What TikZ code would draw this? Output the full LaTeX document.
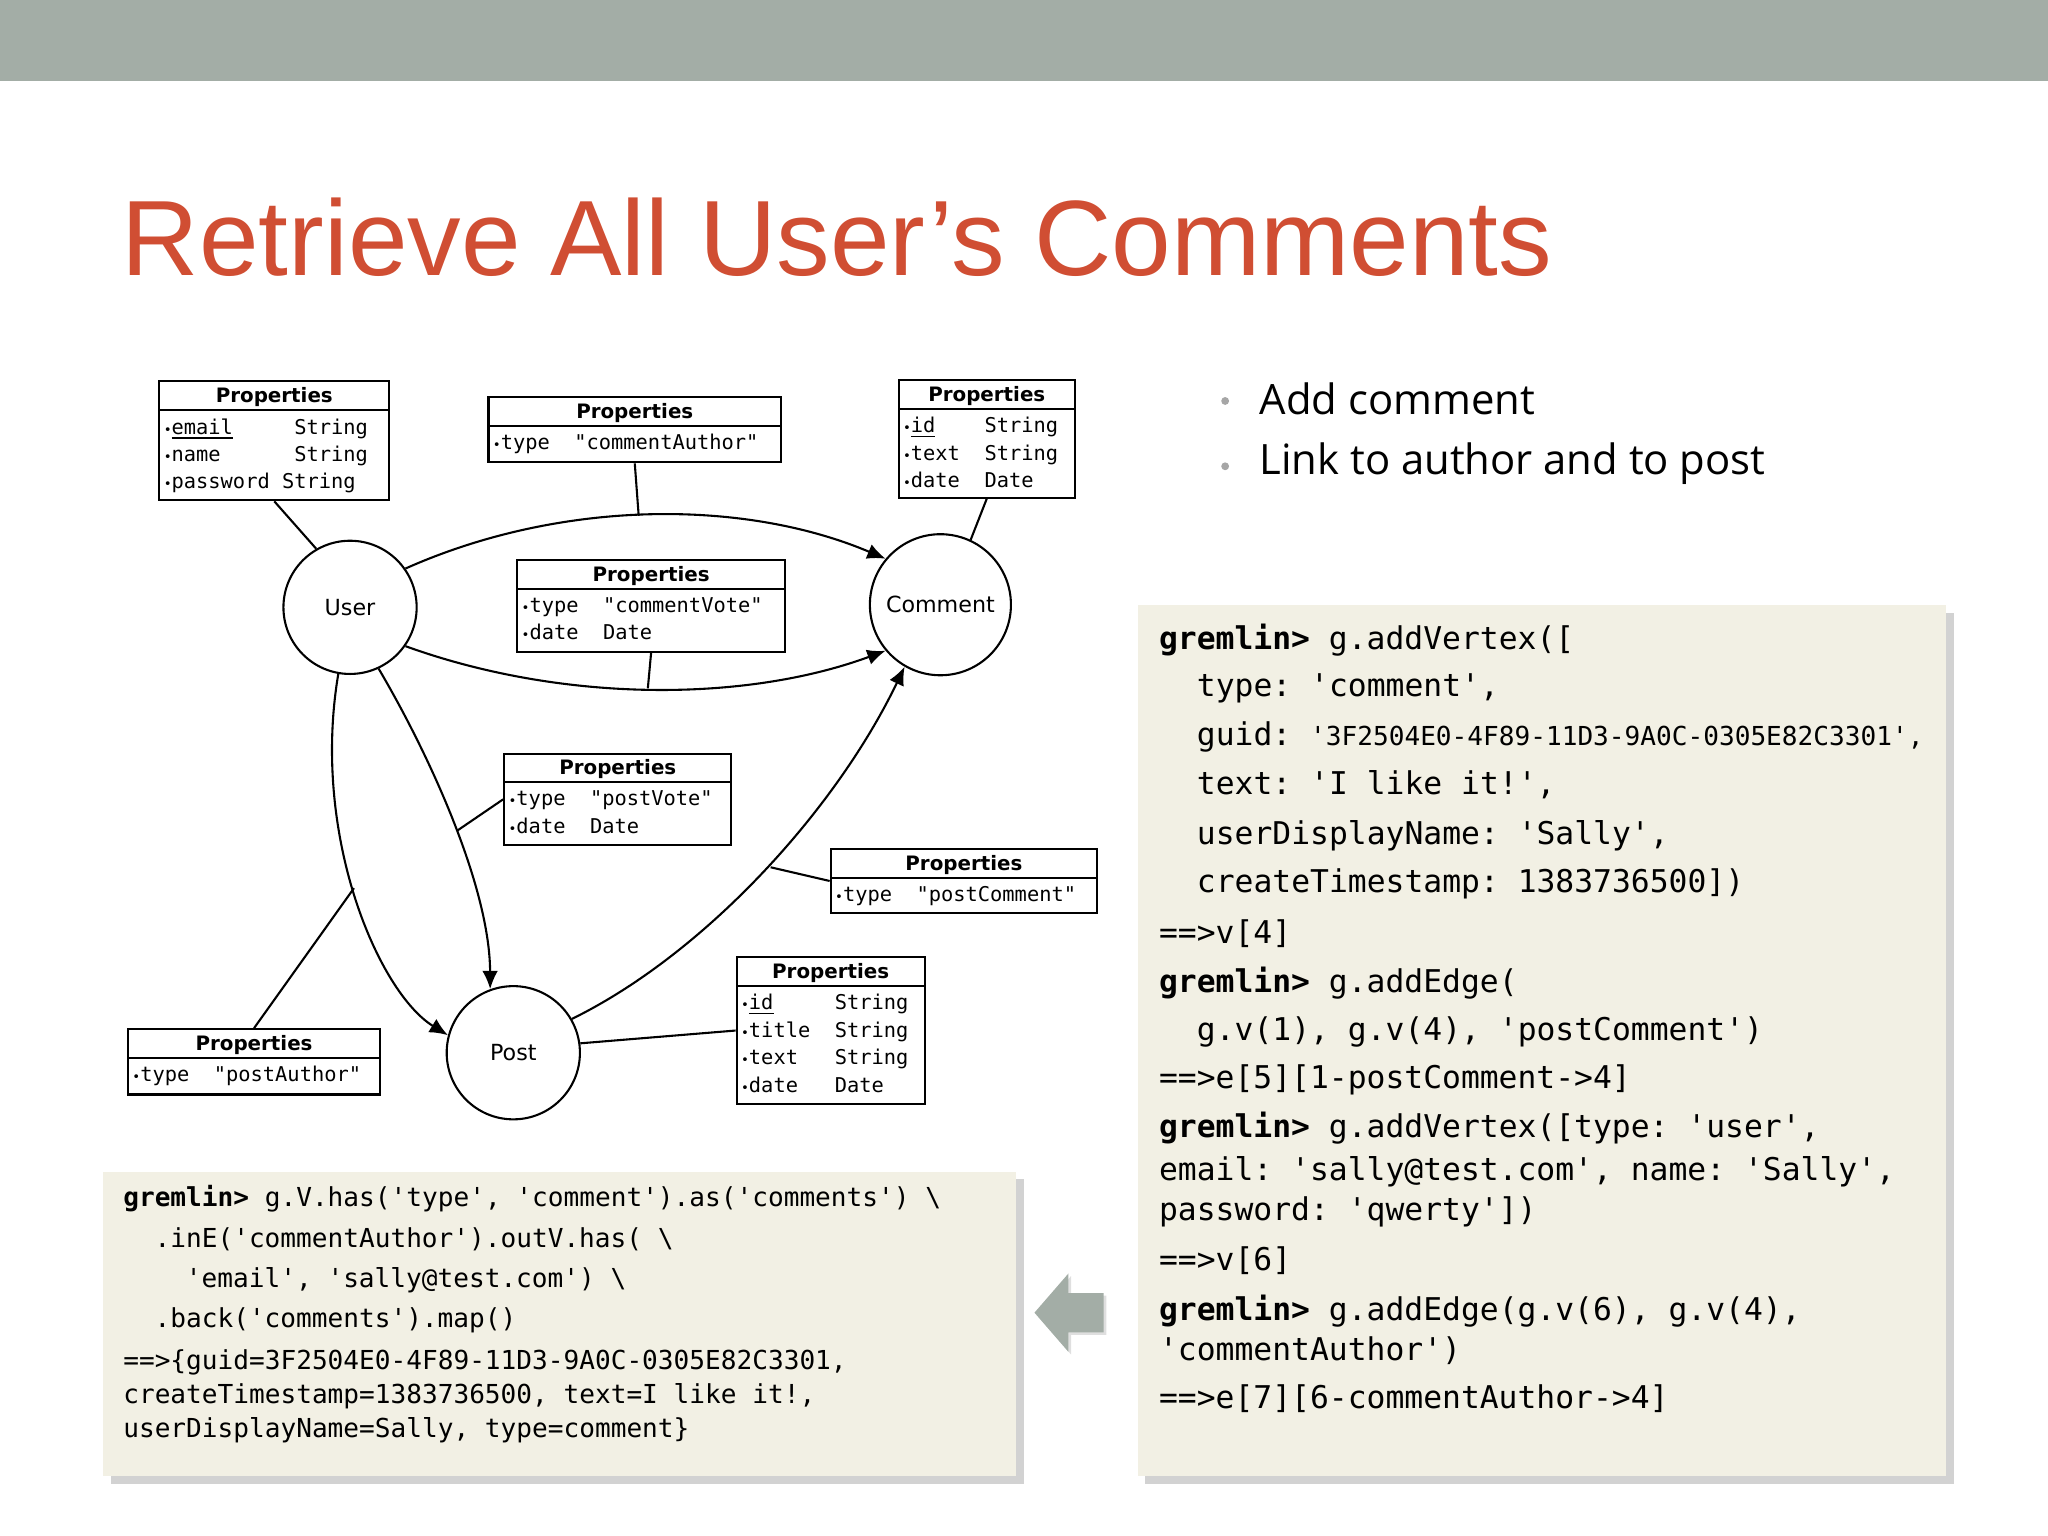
\documentclass[tikz,border=0pt]{standalone}
\usepackage{fontspec}
\setmainfont{Liberation Sans}
\setsansfont{DejaVu Sans}
\setmonofont{DejaVu Sans Mono}
\newfontfamily\bulfont{Open Sans}
\usetikzlibrary{fit,arrows.meta,shadows}
\definecolor{band}{HTML}{A3ADA6}
\definecolor{titlec}{HTML}{D04E33}
\definecolor{codebg}{HTML}{F2F0E4}
\tikzset{
 pb/.style={draw,thick,inner sep=0pt},
 cir/.style={circle,draw,thick,font=\sffamily\fontsize{8.5}{10}\selectfont,inner sep=0pt},
 arr/.style={thick,-{Latex[length=7pt,width=6pt]}},
 ln/.style={thick},
 code/.style={anchor=west,inner sep=0pt,font=\ttfamily\fontsize{12}{14}\selectfont},
 codes/.style={anchor=west,inner sep=0pt,font=\ttfamily\fontsize{10}{12}\selectfont},
 cbox/.style={fill=codebg,draw=none,drop shadow={shadow xshift=3pt,shadow yshift=-3pt,fill=black!35}}
}
\newcommand\pbox[6]{%
 \node[pb,fit={(#2,#3)(#4,#5)}] (#1) {};
 \draw[thick] (#2,#3+22) -- (#4,#3+22);
 \node[inner sep=0pt,font=\sffamily\bfseries\fontsize{7.6}{9}\selectfont] at ({(#2+#4)/2},#3+12) {Properties};
 \node[anchor=north west,inner sep=0pt,align=left,font=\ttfamily\fontsize{7.8}{10.5}\selectfont] at (#2+3,#3+28) {#6};}
\newcommand\bu{{\tiny\textbullet}}
\newcommand\gr{\textbf{gremlin>}}
\begin{document}
\begin{tikzpicture}[x=0.5pt,y=-0.5pt]
\useasboundingbox (0,0) rectangle (1568,1176);
\fill[band] (0,0) rectangle (1568,62);
\node[anchor=west,inner sep=0pt,text=titlec,font=\fontsize{41}{45}\selectfont] (title) at (93,182) {Retrieve All User’s Comments};
% bullets
\node[anchor=west,inner sep=0pt,font=\bulfont\fontsize{16}{19}\selectfont] (b1) at (964,305) {Add comment};
\node[anchor=west,inner sep=0pt,font=\bulfont\fontsize{16}{19}\selectfont] (b2) at (964,355) {Link to author and to post};
\fill[gray!70] (938,307) circle (3) (938,357) circle (3);
% circles
\node[cir,minimum size=51pt] (user) at (268,465) {User};
\node[cir,minimum size=54pt] (comment) at (720,463) {Comment};
\node[cir,minimum size=51pt] (post) at (393,806) {Post};
% property boxes
\pbox{p1}{122}{292}{298}{383}{\bu\underline{email}~~~~~String\\\bu name~~~~~~String\\\bu password~String}
\pbox{p2}{374}{304}{598}{354}{\bu type~~"commentAuthor"}
\pbox{p3}{688}{291}{823}{381}{\bu\underline{id}~~~~String\\\bu text~~String\\\bu date~~Date}
\pbox{p4}{396}{429}{601}{499}{\bu type~~"commentVote"\\\bu date~~Date}
\pbox{p5}{386}{577}{560}{647}{\bu type~~"postVote"\\\bu date~~Date}
\pbox{p6}{636}{650}{840}{699}{\bu type~~"postComment"}
\pbox{p7}{564}{733}{708}{845}{\bu\underline{id}~~~~~String\\\bu title~~String\\\bu text~~~String\\\bu date~~~Date}
\pbox{p8}{98}{788}{291}{838}{\bu type~~"postAuthor"}
% connectors
\coordinate (c2) at (489,395);
\coordinate (c4) at (496,527);
\coordinate (c5) at (350,636);
\coordinate (c6) at (590,664);
\coordinate (c8) at (271,680);
\draw[arr] (user.35) .. controls (430,382) and (570,382) .. (comment.140);
\draw[arr] (user.-35) .. controls (430,538) and (570,538) .. (comment.-140);
\draw[arr] (user.-65) .. controls (330,580) and (375,680) .. (post.110);
\draw[arr] (user.-100) .. controls (238,640) and (290,760) .. (post.165);
\draw[arr] (post.30) .. controls (540,730) and (640,620) .. (comment.-120);
\draw[ln] (p1.south) -- (user.120);
\draw[ln] (p3.south) -- (comment.65);
\draw[ln] (p2.south) -- (c2);
\draw[ln] (p4.south) -- (c4);
\draw[ln] (p5.west) -- (c5);
\draw[ln] (p6.west) -- (c6);
\draw[ln] (p8.north) -- (c8);
\draw[ln] (post.8) -- (p7.west);
% code boxes
\node[cbox,fit={(871,463)(1490,1130)},inner sep=0pt] (rc) {};
\node[cbox,fit={(79,897)(778,1130)},inner sep=0pt] (lc) {};
\node[code] at (887,490) {\gr{} g.addVertex([};
\node[code] at (916,527) {type: 'comment',};
\node[code] at (916,564) {guid: {\fontsize{10}{12}\selectfont'3F2504E0-4F89-11D3-9A0C-0305E82C3301',}};
\node[code] at (916,601) {text: 'I like it!',};
\node[code] at (916,640) {userDisplayName: 'Sally',};
\node[code] at (916,677) {createTimestamp: 1383736500])};
\node[code] at (887,715) {==>v[4]};
\node[code] at (887,753) {\gr{} g.addEdge(};
\node[code] at (916,790) {g.v(1), g.v(4), 'postComment')};
\node[code] at (887,827) {==>e[5][1-postComment->4]};
\node[code] at (887,864) {\gr{} g.addVertex([type: 'user',};
\node[code] at (887,897) {email: 'sally@test.com', name: 'Sally',};
\node[code] at (887,928) {password: 'qwerty'])};
\node[code] at (887,965) {==>v[6]};
\node[code] at (887,1004) {\gr{} g.addEdge(g.v(6), g.v(4),};
\node[code] at (887,1034) {'commentAuthor')};
\node[code] at (887,1071) {==>e[7][6-commentAuthor->4]};
\node[codes] at (94,918) {\gr{} g.V.has('type', 'comment').as('comments') \textbackslash};
\node[codes] at (118,949) {.inE('commentAuthor').outV.has( \textbackslash};
\node[codes] at (142,980) {'email', 'sally@test.com') \textbackslash};
\node[codes] at (118,1011) {.back('comments').map()};
\node[codes] at (94,1043) {==>\{guid=3F2504E0-4F89-11D3-9A0C-0305E82C3301,};
\node[codes] at (94,1069) {createTimestamp=1383736500, text=I like it!,};
\node[codes] at (94,1095) {userDisplayName=Sally, type=comment\}};
% arrow
\fill[band,drop shadow={shadow xshift=1pt,shadow yshift=-1pt,fill=black!25}] (792,1005) -- (818,975) -- (818,990) -- (845,990) -- (845,1020) -- (818,1020) -- (818,1035) -- cycle;
\end{tikzpicture}
\end{document}
